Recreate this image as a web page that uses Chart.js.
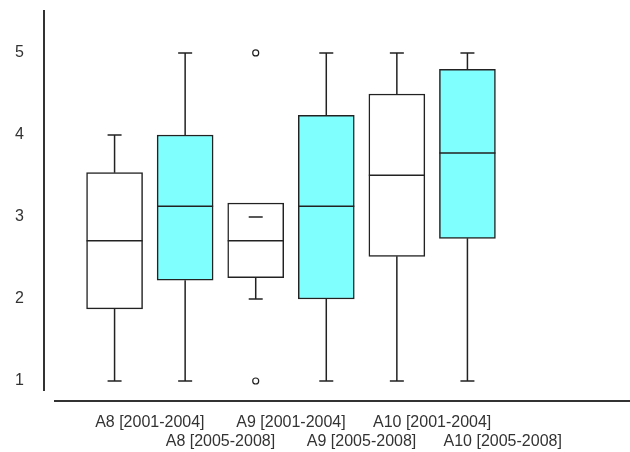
<!DOCTYPE html>
<html>
<head>
<meta charset="utf-8">
<script src="https://cdn.jsdelivr.net/npm/chart.js@4.4.1/dist/chart.umd.min.js"></script>
<style>
  html, body { margin: 0; padding: 0; background: #fff; }
</style>
</head>
<body>
<canvas id="boxChart" width="630" height="452"></canvas>
<script>
// box plot summary per group
const groups = ['A8 [2001-2004]', 'A8 [2005-2008]', 'A9 [2001-2004]', 'A9 [2005-2008]', 'A10 [2001-2004]', 'A10 [2005-2008]'];
const whiskerLow = [1, 1, 2, 1, 1, 1];
const q1 = [1.88, 2.23, 2.26, 2.0, 2.52, 2.74];
const median = [2.71, 3.13, 2.71, 3.13, 3.51, 3.78];
const q3 = [3.54, 4.0, 3.17, 4.24, 4.5, 4.8];
const whiskerHigh = [4, 5, 3, 5, 5, 5];
const outliers = [[], [], [1, 5], [], [], []];
const yTicks = [1, 2, 3, 4, 5];

const INK = '#222';
const BOX_W = 56;
const CAP_W = 14;

const boxData = (parity) => groups
    .map((g, i) => ({ x: i + 1, y: [q1[i], q3[i]] }))
    .filter((d, i) => i % 2 === parity);

const outlierData = [];
outliers.forEach((list, i) => list.forEach(v => outlierData.push({ x: i + 1, y: v })));

// whiskers, caps, medians and the two detached axis lines
const whiskerPlugin = {
    id: 'whiskers',
    afterDatasetsDraw(chart) {
        const { ctx, chartArea, scales: { x, y } } = chart;
        ctx.save();
        ctx.strokeStyle = INK;
        ctx.lineWidth = 1.5;
        groups.forEach((g, i) => {
            const cx = x.getPixelForValue(i + 1);
            const hi = y.getPixelForValue(whiskerHigh[i]);
            const lo = y.getPixelForValue(whiskerLow[i]);
            const top = y.getPixelForValue(q3[i]);
            const bot = y.getPixelForValue(q1[i]);
            const med = y.getPixelForValue(median[i]);
            ctx.beginPath();
            if (whiskerHigh[i] > q3[i]) { ctx.moveTo(cx, top); ctx.lineTo(cx, hi); }
            if (whiskerLow[i] < q1[i]) { ctx.moveTo(cx, bot); ctx.lineTo(cx, lo); }
            ctx.moveTo(cx - CAP_W / 2, hi); ctx.lineTo(cx + CAP_W / 2, hi);
            ctx.moveTo(cx - CAP_W / 2, lo); ctx.lineTo(cx + CAP_W / 2, lo);
            ctx.moveTo(cx - BOX_W / 2, med); ctx.lineTo(cx + BOX_W / 2, med);
            ctx.stroke();
        });
        ctx.strokeStyle = '#333';
        ctx.lineWidth = 2;
        ctx.beginPath();
        ctx.moveTo(chartArea.left, chartArea.top);
        ctx.lineTo(chartArea.left, chartArea.bottom);
        ctx.moveTo(chartArea.left + 10, chartArea.bottom + 10);
        ctx.lineTo(chart.width, chartArea.bottom + 10);
        ctx.stroke();
        ctx.restore();
    }
};

const ctx = document.getElementById('boxChart');
new Chart(ctx, {
    data: {
        datasets: [
            {
                type: 'bar',
                label: '2001-2004',
                data: boxData(0),
                backgroundColor: '#ffffff',
                borderColor: INK,
                borderWidth: 1.5,
                borderSkipped: false,
                barThickness: BOX_W,
                grouped: false
            },
            {
                type: 'bar',
                label: '2005-2008',
                data: boxData(1),
                backgroundColor: '#80ffff',
                borderColor: INK,
                borderWidth: 1.5,
                borderSkipped: false,
                barThickness: BOX_W,
                grouped: false
            },
            {
                type: 'scatter',
                label: 'outliers',
                data: outlierData,
                pointRadius: 3,
                pointBackgroundColor: '#ffffff',
                pointBorderColor: INK,
                pointBorderWidth: 1.2
            }
        ]
    },
    options: {
        responsive: false,
        animation: false,
        layout: { padding: { top: 10, right: 0, bottom: 0, left: 0 } },
        plugins: {
            legend: { display: false },
            tooltip: { enabled: false }
        },
        scales: {
            x: {
                type: 'linear',
                min: 0,
                max: 8.23,
                offset: false,
                grid: { display: false, drawTicks: false, offset: false },
                border: { display: false },
                afterFit: s => { s.height = 61; s.paddingLeft = 0; s.paddingRight = 0; },
                afterBuildTicks: s => { s.ticks = groups.map((g, i) => ({ value: i + 1.5 })); },
                ticks: {
                    padding: 22,
                    color: '#333',
                    maxRotation: 0,
                    autoSkip: false,
                    font: { family: 'Liberation Sans, Arial, sans-serif', size: 16 },
                    callback: (v, i) => i % 2 === 0 ? [groups[i], ''] : ['', groups[i]]
                }
            },
            y: {
                min: 0.878,
                max: 5.524,
                grid: { display: false, drawTicks: false },
                border: { display: false },
                afterFit: s => { s.width = 44; s.paddingTop = 0; s.paddingBottom = 0; },
                afterBuildTicks: s => { s.ticks = yTicks.map(v => ({ value: v })); },
                ticks: {
                    padding: 20,
                    color: '#333',
                    font: { family: 'Liberation Sans, Arial, sans-serif', size: 16 }
                }
            }
        }
    },
    plugins: [whiskerPlugin]
});
</script>
</body>
</html>
